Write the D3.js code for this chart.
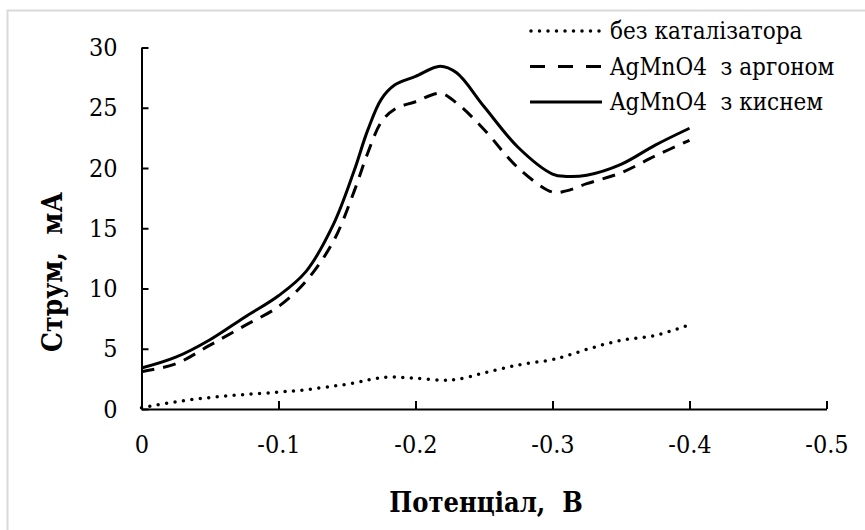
<!DOCTYPE html>
<html>
<head>
<meta charset="utf-8">
<script src="https://cdn.jsdelivr.net/npm/d3@7"></script>
<style>
  body { margin: 0; background: #fff; }
</style>
</head>
<body>
<div id="chart"></div>
<script>
// potential, V (shared by all three curves)
const potential = [0, -0.025, -0.05, -0.075, -0.1, -0.12, -0.14, -0.155, -0.165, -0.175, -0.185, -0.2, -0.218, -0.23, -0.25, -0.275, -0.3, -0.31, -0.325, -0.35, -0.375, -0.4]
// current, mA
const noCatalyst = [0.1, 0.6, 0.95, 1.2, 1.4, 1.6, 1.9, 2.15, 2.4, 2.6, 2.65, 2.55, 2.4, 2.45, 3.0, 3.65, 4.1, 4.4, 4.95, 5.7, 6.1, 7.0]
const withArgon = [3.1, 3.75, 5.3, 6.9, 8.5, 10.6, 13.9, 18.0, 21.2, 23.8, 24.9, 25.5, 26.2, 25.4, 23.2, 20.0, 18.0, 18.1, 18.7, 19.6, 21.0, 22.3]
const withOxygen = [3.4, 4.3, 5.75, 7.6, 9.4, 11.4, 15.3, 19.7, 23.1, 25.7, 26.9, 27.6, 28.45, 27.9, 25.1, 21.7, 19.5, 19.3, 19.4, 20.3, 21.9, 23.3]

const seriesNames = ["без каталізатора", "AgMnO4  з аргоном", "AgMnO4  з киснем"]
const xTicks = [0, -0.1, -0.2, -0.3, -0.4, -0.5]
const yTicks = [0, 5, 10, 15, 20, 25, 30]
const xTitle = "Потенціал,  В"
const yTitle = "Струм,  мА"

const w = 865
const h = 530
const serif = "DejaVu Serif Condensed, DejaVu Serif"

const svg = d3.select("#chart").append("svg")
  .attr("width", w)
  .attr("height", h)
  .attr("font-family", serif)

// chart area border (light grey, runs off right and bottom)
svg.append("rect")
  .attr("x", 7.5).attr("y", 10.5)
  .attr("width", 900).attr("height", 600)
  .attr("fill", "none")
  .attr("stroke", "#d9d9d9")
  .attr("stroke-width", 2)

const xScale = d3.scaleLinear().domain([0, -0.5]).range([141.5, 826.5])
const yScale = d3.scaleLinear().domain([0, 30]).range([409, 47.5])

const xAxis = d3.axisBottom(xScale)
  .tickValues(xTicks)
  .tickFormat(d => d === 0 ? "0" : d3.format(".1f")(d).replace("−", "-"))
  .tickSizeInner(-8).tickSizeOuter(0).tickPadding(26)
const yAxis = d3.axisLeft(yScale)
  .tickValues(yTicks)
  .tickSizeInner(-7).tickSizeOuter(0).tickPadding(24)

const gx = svg.append("g")
  .attr("transform", "translate(0," + yScale(0) + ")")
  .call(xAxis)
const gy = svg.append("g")
  .attr("transform", "translate(" + xScale(0) + ",0)")
  .call(yAxis)

;[gx, gy].forEach(g => {
  g.attr("font-family", serif).attr("font-size", 25)
  g.selectAll("path, line").attr("stroke", "#000").attr("stroke-width", 2)
  g.selectAll("text").attr("font-family", serif).attr("font-size", 25).attr("fill", "#000")
})

// axis titles
svg.append("text")
  .attr("x", 486).attr("y", 512)
  .attr("text-anchor", "middle")
  .attr("font-family", serif)
  .attr("font-size", 27).attr("font-weight", "bold")
  .style("white-space", "pre")
  .text(xTitle)
svg.append("text")
  .attr("transform", "translate(62,272) rotate(-90)")
  .attr("text-anchor", "middle")
  .attr("font-family", serif)
  .attr("font-size", 28).attr("font-weight", "bold")
  .style("white-space", "pre")
  .text(yTitle)

const styles = [
  { dash: "0,8.5", width: 3.5, cap: "round" },
  { dash: "13,9", width: 3, cap: "butt" },
  { dash: null, width: 3, cap: "butt" }
]
const allSeries = [noCatalyst, withArgon, withOxygen]

const line = d3.line()
  .x((d, i) => xScale(potential[i]))
  .y(d => yScale(d))
  .curve(d3.curveCatmullRom.alpha(0.5))

allSeries.forEach((vals, k) => {
  svg.append("path")
    .datum(vals)
    .attr("d", line)
    .attr("fill", "none")
    .attr("stroke", "#000")
    .attr("stroke-width", styles[k].width)
    .attr("stroke-linecap", styles[k].cap)
    .attr("stroke-dasharray", styles[k].dash)
})

// legend
const legend = svg.append("g")
seriesNames.forEach((name, k) => {
  const cy = 31 + k * 35.5
  legend.append("line")
    .attr("x1", styles[k].cap === "round" ? 531 : 530).attr("x2", 602)
    .attr("y1", cy).attr("y2", cy)
    .attr("stroke", "#000")
    .attr("stroke-width", styles[k].width)
    .attr("stroke-linecap", styles[k].cap)
    .attr("stroke-dasharray", k === 1 ? "15,13" : styles[k].dash)
  legend.append("text")
    .attr("x", 610).attr("y", cy + 8)
    .attr("font-family", serif)
    .attr("font-size", 24)
    .style("white-space", "pre")
    .text(name)
})
</script>
</body>
</html>
